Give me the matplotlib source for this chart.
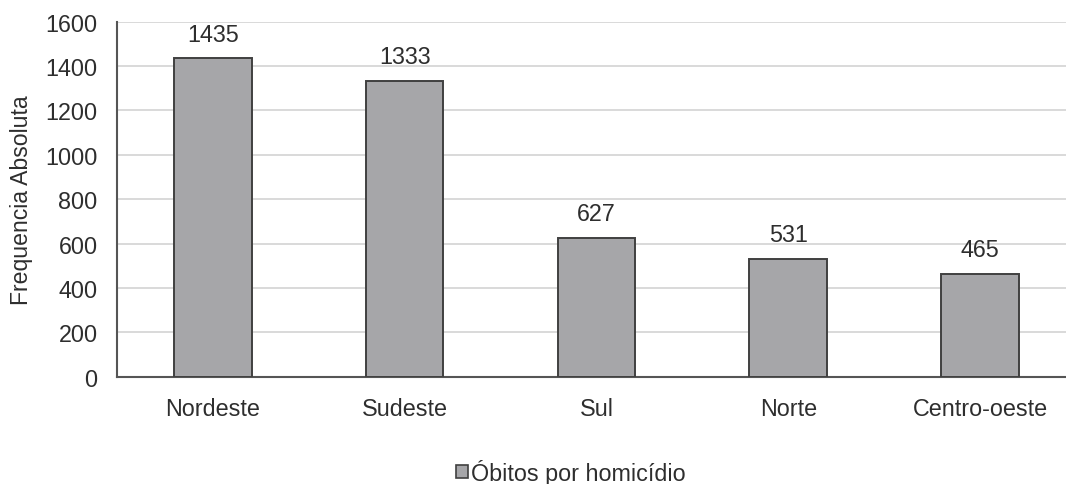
import matplotlib
matplotlib.use("Agg")
import matplotlib.pyplot as plt
from matplotlib.patches import Patch

regions = ['Nordeste', 'Sudeste', 'Sul', 'Norte', 'Centro-oeste']
deaths = [1435, 1333, 627, 531, 465]
y_ticks = [0, 200, 400, 600, 800, 1000, 1200, 1400, 1600]

plt.rcParams['font.family'] = ['Liberation Sans', 'DejaVu Sans']
text_color = '#2e2e2e'
bar_color = '#a6a6a9'
edge_color = '#404040'
fs = 16.8

fig = plt.figure(figsize=(10.66, 4.85), dpi=100)
ax = fig.add_axes([117.1 / 1066, (485 - 377.7) / 485, 958.75 / 1066, 355 / 485])

xs = range(len(regions))
bars = ax.bar(xs, deaths, width=0.404, color=bar_color, edgecolor=edge_color,
              linewidth=1.4, zorder=3)
for x, v in zip(xs, deaths):
    ax.annotate(f'{v}', (x, v), xytext=(0, 9), textcoords='offset points',
                ha='center', va='bottom', fontsize=fs, color=text_color)

ax.set_xlim(-0.5, len(regions) - 0.5)
ax.set_ylim(0, 1600)
ax.set_yticks(y_ticks)
ax.set_xticks(list(xs))
ax.set_xticklabels(regions)
ax.tick_params(axis='both', length=0, labelsize=fs, labelcolor=text_color)
ax.tick_params(axis='x', pad=14.5)
ax.tick_params(axis='y', pad=14)
ax.yaxis.grid(True, color='#d9d9d9', linewidth=1.4, zorder=0)
ax.set_axisbelow(True)

for side in ['top', 'right']:
    ax.spines[side].set_visible(False)
for side in ['left', 'bottom']:
    ax.spines[side].set_color('#555555')
    ax.spines[side].set_linewidth(1.5)

ax.set_ylabel('Frequencia Absoluta', fontsize=16.6, color=text_color, labelpad=9)

handle = Patch(facecolor=bar_color, edgecolor=edge_color, linewidth=1.2)
fig.legend([handle], ['Óbitos por homicídio'], loc='center',
           bbox_to_anchor=(571 / 1066, 1 - 473 / 485), frameon=False,
           fontsize=fs, handlelength=0.5, handleheight=0.5, handletextpad=0.15,
           labelcolor=text_color)

fig.savefig('out.png', dpi=100)
